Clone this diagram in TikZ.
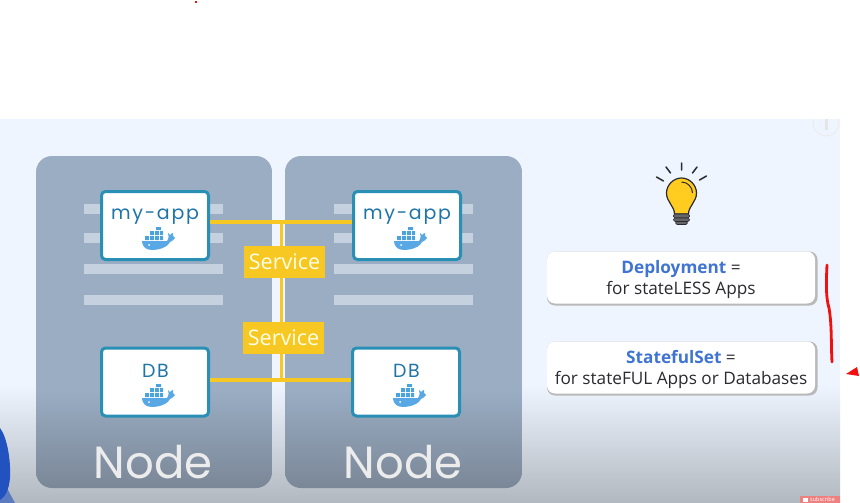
\documentclass[tikz,border=0pt]{standalone}
\usepackage{fontspec}
\setmainfont{Open Sans}
\newfontfamily\nodefont{Poppins}
\newfontfamily\appfont[LetterSpace=9]{Poppins}
\usetikzlibrary{calc}
\definecolor{bgblue}{HTML}{EFF5FF}
\definecolor{bgbottom}{HTML}{B2B8BF}
\definecolor{paneltop}{HTML}{9AADC3}
\definecolor{panelbot}{HTML}{7A8797}
\definecolor{stripe}{HTML}{C5D1DE}
\definecolor{boxline}{HTML}{2A8FB5}
\definecolor{apptext}{HTML}{1F75A8}
\definecolor{yell}{HTML}{F8C822}
\definecolor{bulbfill}{HTML}{FFCC1F}
\definecolor{whale}{HTML}{58A8E6}
\definecolor{keyword}{HTML}{3F74D2}
\definecolor{inkdark}{HTML}{2A2A30}
\definecolor{penred}{HTML}{F01010}
\definecolor{blobblue}{HTML}{2152C0}
\definecolor{badge}{HTML}{EE8080}
\tikzset{
  x=1pt,y=-1pt,
  appbox/.style={draw=boxline,line width=3pt,fill=white,rounded corners=4pt,minimum width=107pt,minimum height=68pt,inner sep=0pt},
  barline/.style={fill=stripe},
  wire/.style={draw=yell,line width=3.6pt},
  svc/.style={fill=yell,text=white!90!yellow,inner sep=0pt,minimum width=81pt,minimum height=32pt,font=\fontsize{21.5}{24}\selectfont},
  lab/.style={apptext,font=\appfont\fontsize{19}{21}\selectfont},
  nodelab/.style={text=white!85!gray,font=\nodefont\fontsize{45}{48}\selectfont,inner sep=0pt},
  info/.style={fill=white,rounded corners=8pt,minimum width=268pt,minimum height=52pt,inner sep=0pt,align=center,text=inkdark,font=\fontsize{17.2}{21}\selectfont},
  infoshadow/.style={fill=gray!55,rounded corners=8pt},
  redpen/.style={draw=penred,line width=2.8pt,line cap=round,line join=round}
}
\newcommand{\whaleat}[2]{%
  \begin{scope}[shift={(#1,#2)}]
    \fill[whale] (-15,0) -- (10,0) .. controls (12,-3) and (12,-6) .. (11,-8) -- (13,-6) .. controls (14,-7) and (15,-8) .. (16,-8) -- (16,-5) -- (18,-3) .. controls (17,-1) and (15,0) .. (13,1) .. controls (9,9) and (-6,10) .. (-10,8) .. controls (-13,7) and (-15,3) .. (-15,0) -- cycle;
    \fill[whale!75!boxline] (-12,-5) rectangle (-8,-1) (-7,-5) rectangle (-3,-1) (-2,-5) rectangle (2,-1) (3,-5) rectangle (6,-1)
       (-7,-10) rectangle (-3,-6) (-2,-10) rectangle (2,-6) (3,-10) rectangle (6,-6) (-1,-14) rectangle (4,-11);
    \fill[white] (-8,4) circle (1);
  \end{scope}}
\newcommand{\panelat}[2]{%
  \begin{scope}
    \clip[rounded corners=16pt] (#1,156) rectangle (#2,488);
    \fill[paneltop] (#1,156) rectangle (#2,391);
    \shade[top color=paneltop,bottom color=panelbot] (#1,390) rectangle (#2,488);
  \end{scope}}
\begin{document}
\begin{tikzpicture}
\useasboundingbox (0,0) rectangle (860,503);
\fill[white] (0,0) rectangle (860,503);
\fill[bgblue] (0,119) rectangle (840,386);
\shade[top color=bgblue,bottom color=bgbottom] (0,385) rectangle (840,503);
% blue blob
\fill[blobblue!60!bgbottom] (0,485) -- (8,490) -- (15,503) -- (0,503) -- cycle;
\fill[blobblue] (0,428) .. controls (7,437) and (11,460) .. (10,478) .. controls (9,490) and (5,497) .. (0,500) -- cycle;
% info icon
\draw[white!85!gray,line width=1pt] (838.4,119) arc (-18:198:13);
\fill[white!80!gray] (824.5,119) rectangle (827.5,130);
% subscribe badge
\fill[badge] (800,496) rectangle (840,503);
\fill[white] (803,498) rectangle (808,502);
\node[white,inner sep=0pt,anchor=west,font=\fontsize{5.5}{6}\selectfont] (sub) at (810,499.5) {subscribe};
% panels
\panelat{36}{272}
\panelat{285}{522}
% stripes
\foreach \y in {204,233,264,295}{
  \fill[barline] (84,\y) rectangle (223,\y+10);
  \fill[barline] (334,\y) rectangle (473,\y+10);
}
% boxes
\node[appbox] (appL) at (155,225.5) {};
\node[appbox] (appR) at (407,225.5) {};
\node[appbox] (dbL) at (155,382) {};
\node[appbox] (dbR) at (406,382) {};
\node[lab] (t1) at (155,217) {my-app};
\node[lab] (t2) at (407,217) {my-app};
\node[lab] (t3) at (155.5,370.5) {DB};
\node[lab] (t4) at (406.5,370.5) {DB};
\whaleat{157}{241}
\whaleat{409}{241}
\whaleat{157}{398}
\whaleat{408}{398}
% wires
\coordinate (top) at (281.5,222);
\coordinate (bot) at (281.5,380);
\draw[wire] (appL.east |- top) -- (appR.west |- top);
\draw[wire] (dbL.east |- bot) -- (dbR.west |- bot);
\draw[wire] (top) -- (bot);
\node[svc] (svcA) at (284.5,262) {Service};
\node[svc] (svcB) at (283.5,338) {Service};
% node labels
\node[nodelab] (nl) at (153,462) {Node};
\node[nodelab] (nr) at (403,462) {Node};
% bulb
\begin{scope}[shift={(681.5,193)}]
  \fill[bulbfill,draw=inkdark,line width=1.2pt] (-7,21) .. controls (-7,13) and (-15,9) .. (-15,0) .. controls (-15,-8) and (-8,-15) .. (0,-15) .. controls (8,-15) and (15,-8) .. (15,0) .. controls (15,9) and (7,13) .. (7,21) -- cycle;
  \draw[inkdark,line width=1pt] (0,-11) .. controls (6,-11) and (11,-6) .. (11,0);
  \fill[gray!70!inkdark,draw=inkdark,line width=.6pt,rounded corners=1.5pt] (-8,21) rectangle (8,25);
  \fill[gray!70!inkdark,draw=inkdark,line width=.6pt,rounded corners=1.5pt] (-8,25) rectangle (8,28.5);
  \fill[gray!70!inkdark,draw=inkdark,line width=.6pt,rounded corners=1.5pt] (-6,28.5) rectangle (6,31.5);
  \draw[inkdark,line width=1.5pt,line cap=round] (0,-30) -- (0,-23) (-15.5,-26) -- (-11,-20) (15.5,-26) -- (11,-20) (-25,-16) -- (-18,-12) (25,-17) -- (18,-13);
\end{scope}
% info boxes
\fill[infoshadow] (547,251.5) rectangle (817.5,305.5);
\fill[infoshadow] (547,341.5) rectangle (817.5,395.5);
\node[info] (dep) at (681,277.5) {\rule{0pt}{17pt}{\color{keyword}\bfseries Deployment} =\\for stateLESS Apps};
\node[info] (sts) at (681,367.5) {\rule{0pt}{17pt}{\color{keyword}\bfseries StatefulSet} =\\for stateFUL Apps or Databases};
% red pen
\draw[redpen] (827,265) .. controls (826,285) and (826,298) .. (829,308) .. controls (832,325) and (831,345) .. (832,362);
\fill[penred] (846,374) -- (857,367) -- (859,376) -- cycle;
\fill[penred] (195,1) rectangle (197,3);
\end{tikzpicture}
\end{document}
